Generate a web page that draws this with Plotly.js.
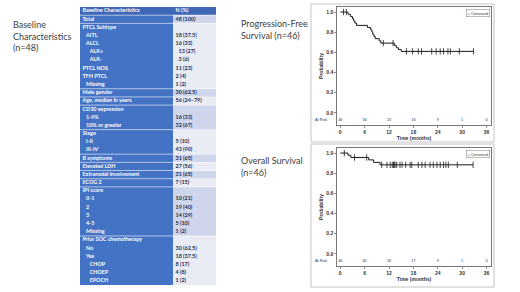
<!DOCTYPE html>
<html><head><meta charset="utf-8">
<script src="https://cdn.plot.ly/plotly-3.0.1.min.js"></script>
<style>html,body{margin:0;padding:0;background:#fff;}#chart{width:520px;height:292px;}</style>
</head><body><div id="chart"></div>
<script>
// ---------- Table data ----------
const rowLabels = ["Baseline Characteristics","Total","PTCL Subtype","AITL","ALCL","ALK+","ALK-","PTCL NOS","TFH PTCL","Missing",
  "Male gender","Age, median in years","CD30 expression","1-9%","10% or greater","Stage","I-II","III-IV",
  "B symptoms","Elevated LDH","Extranodal involvement","ECOG 2","IPI score","0-1","2","3","4-5","Missing",
  "Prior SOC chemotherapy","No","Yes","CHOP","CHOEP","EPOCH"];
const rowValues = ["N (%)","48 (100)","","18 (37.5)","16 (33)","13 (27)","3 (6)","11 (23)","2 (4)","1 (2)",
  "30 (62.5)","56 (24\u201379)","","16 (33)","32 (67)","","5 (10)","43 (90)",
  "31 (65)","27 (56)","31 (65)","7 (15)","","10 (21)","19 (40)","14 (29)","5 (10)","1 (2)",
  "","30 (62.5)","18 (37.5)","8 (17)","4 (8)","1 (2)"];
const labelIndent = [0,0,0,1,1,2,2,0,0,1, 0,0,0,1,1,0,1,1, 0,0,0,0,0,1,1,1,1,1, 0,1,1,2,2,2];
const valueIndent = [0,0,0,0,0,1,1,0,0,0, 0,0,0,0,0,0,0,0, 0,0,0,0,0,0,0,0,0,0, 0,0,0,0,0,0];
const rowGroup    = [-1,0,1,1,1,1,1,1,1,1, 2,3,4,4,4,5,5,5, 6,7,8,9,10,10,10,10,10,10, 11,11,11,11,11,11];

// ---------- Kaplan-Meier data ----------
const pfsStepTime = [0,1.9,2.5,3.0,3.3,3.6,4.0,6.7,7.5,7.8,8.0,8.3,8.6,9.6,10.0,13.3,13.8,14.3,15.0];
const pfsStepSurv = [1.0,0.978,0.956,0.934,0.912,0.890,0.868,0.846,0.824,0.802,0.780,0.758,0.736,0.714,0.692,0.669,0.646,0.628,0.610];
const pfsEndTime = 32.8;
const pfsCensorTime = [0.8,1.5,10.6,13.0,16.3,17.8,19.2,20.0,22.5,23.6,24.6,25.4,26.5,27.1,29.3,32.8];

const osStepTime = [0,1.9,2.6,7.0,8.2,9.8];
const osStepSurv = [1.0,0.978,0.956,0.932,0.907,0.883];
const osEndTime = 32.7;
const osCensorTime = [1.0,3.5,6.5,10.2,11.5,12.3,12.8,13.1,13.3,13.5,13.9,14.7,15.2,16.1,17.2,17.6,19.2,20.1,20.9,22.1,22.9,23.8,24.6,25.4,26.0,26.6,28.8,32.7];

const riskTimes = [0,6,12,18,24,30,36];
const pfsAtRisk = [46,34,23,16,9,1,0];
const osAtRisk  = [46,40,26,17,9,1,0];
const xTicks = [0,6,12,18,24,30,36];
const yTicks = [0,0.2,0.4,0.6,0.8,1.0];

// ---------- helpers ----------
const W = 520, H = 292;
const px = p => p / W, py = p => 1 - p / H;
function stepAt(times, surv, t) { let s = surv[0]; for (let i = 0; i < times.length; i++) if (times[i] <= t) s = surv[i]; return s; }

const INK = '#1a1a1a';
const AX_FONT = {family: 'Liberation Sans', size: 5, color: '#333', weight: 'bold'};

function kmTraces(stepT, stepS, endT, censT, risk, xa, ya) {
  return [
    {type: 'scatter', mode: 'lines', x: stepT.concat([endT]), y: stepS.concat([stepS[stepS.length - 1]]),
     line: {shape: 'hv', color: INK, width: 1}, xaxis: xa, yaxis: ya, hoverinfo: 'skip', showlegend: false},
    {type: 'scatter', mode: 'markers', x: censT, y: censT.map(t => stepAt(stepT, stepS, t)),
     marker: {symbol: 'line-ns', size: 4.5, line: {width: 0.8, color: INK}, color: INK},
     xaxis: xa, yaxis: ya, hoverinfo: 'skip', showlegend: false},
    {type: 'scatter', mode: 'text', x: riskTimes, y: riskTimes.map(() => -0.075), text: risk.map(String),
     textfont: {family: 'Liberation Sans', size: 3.8, color: '#333'}, xaxis: xa, yaxis: ya,
     hoverinfo: 'skip', showlegend: false, cliponaxis: false}
  ];
}

// table heatmap
const zTable = rowGroup.map(g => g < 0 ? [0, 0] : [1, 2 + (g % 2)]);
const COLW = [0, 93, 136];
const tableTraces = [
  {type: 'heatmap', z: zTable, x: COLW, y: rowLabels.map((_, i) => i), zmin: 0, zmax: 3, showscale: false,
   colorscale: [[0, '#3d67b6'], [0.1667, '#3d67b6'], [0.1667, '#4472c4'], [0.5, '#4472c4'], [0.5, '#cfd5ea'], [0.8333, '#cfd5ea'], [0.8333, '#e9ebf5'], [1, '#e9ebf5']],
   xaxis: 'x3', yaxis: 'y3', hoverinfo: 'skip'},
  {type: 'scatter', mode: 'text', x: labelIndent.map(l => 2.5 + l * 3.6), y: rowLabels.map((_, i) => i), text: rowLabels,
   textposition: 'middle right', textfont: {family: 'Lato', size: 5.4, color: '#ffffff', weight: 'bold'},
   xaxis: 'x3', yaxis: 'y3', hoverinfo: 'skip', showlegend: false, cliponaxis: false},
  {type: 'scatter', mode: 'text', x: valueIndent.map(l => COLW[1] + 2.5 + l * 3), y: rowValues.map((_, i) => i), text: rowValues,
   textposition: 'middle right', textfont: {family: 'Lato', size: 5.4, color: rowGroup.map(g => g < 0 ? '#ffffff' : '#1c2b52'), weight: 'bold'},
   xaxis: 'x3', yaxis: 'y3', hoverinfo: 'skip', showlegend: false, cliponaxis: false}
];

const sepShapes = [];
for (let i = 1; i < rowGroup.length; i++) {
  if (rowGroup[i] !== rowGroup[i - 1]) sepShapes.push({type: 'line', xref: 'x3', yref: 'y3', x0: COLW[0], x1: COLW[2], y0: i - 0.5, y1: i - 0.5, line: {color: 'rgba(255,255,255,0.85)', width: 0.7}});
}

const data = tableTraces
  .concat(kmTraces(pfsStepTime, pfsStepSurv, pfsEndTime, pfsCensorTime, pfsAtRisk, 'x', 'y'))
  .concat(kmTraces(osStepTime, osStepSurv, osEndTime, osCensorTime, osAtRisk, 'x2', 'y2'));

function xAxis(dom, anchor) {
  return {domain: dom, anchor: anchor, range: [-0.8, 37.1], tickvals: xTicks, ticks: 'outside', ticklen: 2, tickwidth: 0.6, tickcolor: '#444',
    showline: true, mirror: true, linecolor: '#555', linewidth: 0.8, showgrid: false, zeroline: false, tickfont: AX_FONT,
    title: {text: 'Time (months)', font: AX_FONT, standoff: 1}, fixedrange: true};
}
function yAxis(dom, anchor) {
  return {domain: dom, anchor: anchor, range: [-0.12, 1.05], tickvals: yTicks, tickformat: '.1f', ticks: 'outside', ticklen: 2, tickwidth: 0.6, tickcolor: '#444',
    showline: true, mirror: true, linecolor: '#555', linewidth: 0.8, showgrid: false, zeroline: false, tickfont: AX_FONT,
    title: {text: 'Probability', font: AX_FONT, standoff: 2}, fixedrange: true};
}

const TITLE_FONT = {family: 'Lato', size: 9, color: '#404040'};
const layout = {
  width: W, height: H, margin: {l: 0, r: 0, t: 0, b: 0}, paper_bgcolor: '#fff', plot_bgcolor: '#fff', showlegend: false,
  xaxis: xAxis([px(337), px(491)], 'y'),
  yaxis: yAxis([py(125), py(7)], 'x'),
  xaxis2: xAxis([px(337), px(491)], 'y2'),
  yaxis2: yAxis([py(266), py(148)], 'x2'),
  xaxis3: {domain: [px(80), px(216)], anchor: 'y3', range: [0, 136], visible: false, fixedrange: true},
  yaxis3: {domain: [py(285), py(7)], anchor: 'x3', range: [33.5, -0.5], visible: false, fixedrange: true},
  shapes: [
    {type: 'rect', xref: 'paper', yref: 'paper', x0: px(311), x1: px(494), y0: py(142), y1: py(4), line: {color: '#c4c4c4', width: 1}, layer: 'below'},
    {type: 'rect', xref: 'paper', yref: 'paper', x0: px(311), x1: px(494), y0: py(287), y1: py(144), line: {color: '#c4c4c4', width: 1}, layer: 'below'}
  ].concat(sepShapes),
  annotations: [
    {text: 'Baseline<br>Characteristics<br>(n=48)', xref: 'paper', yref: 'paper', x: px(11), y: py(36), xanchor: 'left', yanchor: 'middle', align: 'left', showarrow: false, font: TITLE_FONT},
    {text: 'Progression-Free<br>Survival (n=46)', xref: 'paper', yref: 'paper', x: px(239), y: py(30), xanchor: 'left', yanchor: 'middle', align: 'left', showarrow: false, font: TITLE_FONT},
    {text: 'Overall Survival<br>(n=46)', xref: 'paper', yref: 'paper', x: px(239), y: py(166), xanchor: 'left', yanchor: 'middle', align: 'left', showarrow: false, font: TITLE_FONT},
    {text: 'At Risk', xref: 'paper', yref: 'y', x: px(329), y: -0.075, xanchor: 'right', yanchor: 'middle', showarrow: false, font: {family: 'Liberation Sans', size: 3.8, color: '#333'}},
    {text: 'At Risk', xref: 'paper', yref: 'y2', x: px(329), y: -0.075, xanchor: 'right', yanchor: 'middle', showarrow: false, font: {family: 'Liberation Sans', size: 3.8, color: '#333'}},
    {text: '+ Censored', xref: 'paper', yref: 'paper', x: px(490), y: py(9), xanchor: 'right', yanchor: 'top', showarrow: false, bgcolor: '#fff', bordercolor: '#777', borderwidth: 0.5, borderpad: 1, font: {family: 'Liberation Sans', size: 4, color: '#333'}},
    {text: '+ Censored', xref: 'paper', yref: 'paper', x: px(490), y: py(150), xanchor: 'right', yanchor: 'top', showarrow: false, bgcolor: '#fff', bordercolor: '#777', borderwidth: 0.5, borderpad: 1, font: {family: 'Liberation Sans', size: 4, color: '#333'}}
  ]
};

Plotly.newPlot('chart', data, layout, {staticPlot: true, displayModeBar: false});
</script>
</body></html>
